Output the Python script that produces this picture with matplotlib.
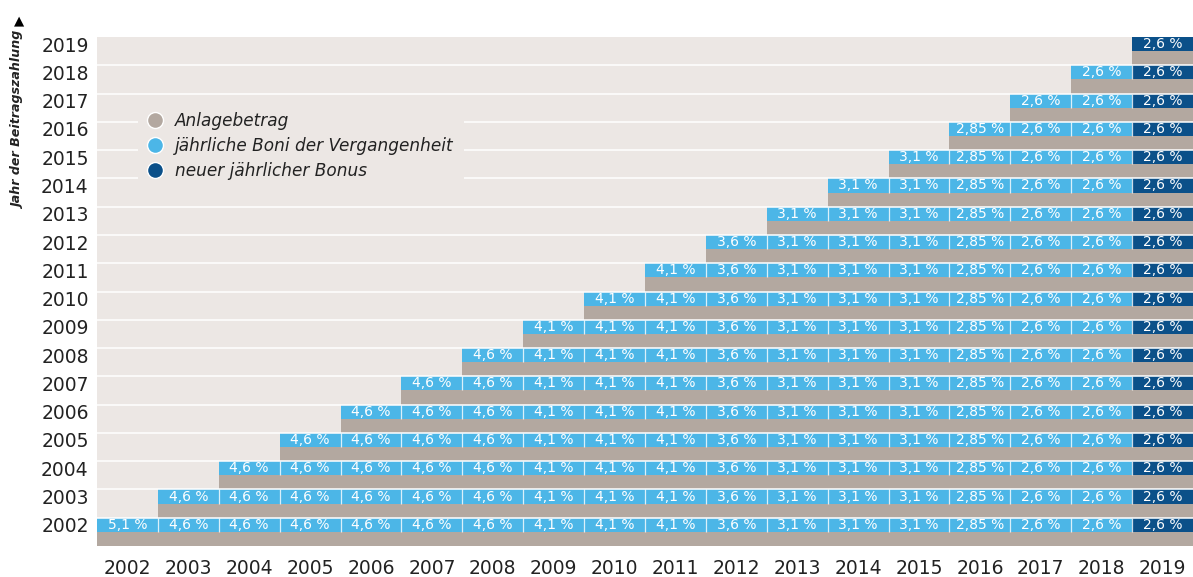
import matplotlib
matplotlib.use("Agg")
import matplotlib.pyplot as plt
from matplotlib.lines import Line2D

# ---- data ----
years = list(range(2002, 2020))
# Bonus rate per year (column), in percent
bonus = [5.1, 4.6, 4.6, 4.6, 4.6, 4.6, 4.6, 4.1, 4.1, 4.1,
         3.6, 3.1, 3.1, 3.1, 2.85, 2.6, 2.6, 2.6]
new_bonus_year = 2019

legend_labels = ["Anlagebetrag",
                 "jährliche Boni der Vergangenheit",
                 "neuer jährlicher Bonus"]
y_title = "Jahr der Beitragszahlung"

# ---- colours ----
c_panel = "#ece7e4"
c_base = "#b3a8a0"
c_past = "#4cb6e7"
c_new = "#0b5089"
c_text = "#222222"

plt.rcParams["font.family"] = ["DejaVu Sans"]

W, H = 1193, 577
fig = plt.figure(figsize=(W / 100, H / 100), dpi=100)
ax = fig.add_axes([97 / W, 1 - 546 / H, (1193 - 97) / W, (546 - 37) / H])
ax.set_facecolor(c_panel)

n = len(years)
cols = list(range(n))

for r, yr in enumerate(years):
    # base amount (grey), from payment year to the end
    ax.barh(r + 0.25, n - r, left=r, height=0.5, color=c_base, zorder=2)
    # bonus cells
    for c in cols[r:]:
        col = c_new if years[c] == new_bonus_year else c_past
        ax.barh(r + 0.75, 1, left=c, height=0.5, color=col, zorder=2)
        txt = f"{bonus[c]:g} %".replace(".", ",")
        ax.text(c + 0.5, r + 0.75, txt, ha="center", va="center",
                color="white", fontsize=10, zorder=4)
    # thin white separators between bonus cells
    if r < n - 1:
        ax.vlines([c for c in cols[r + 1:]], r + 0.5, r + 1,
                  color="white", lw=0.9, alpha=0.8, zorder=3)

# white lines between the rows
for i in range(1, n):
    ax.axhline(i, color="white", lw=1.1, zorder=3)

ax.set_xlim(0, n)
ax.set_ylim(0, n)
ax.set_xticks([c + 0.5 for c in cols])
ax.set_xticklabels([str(y) for y in years])
ax.set_yticks([c + 0.75 for c in cols])
ax.set_yticklabels([str(y) for y in years])
ax.tick_params(axis="x", length=0, pad=9, labelsize=13.5, labelcolor=c_text)
ax.tick_params(axis="y", length=0, pad=6, labelsize=13.5, labelcolor=c_text)
for s in ax.spines.values():
    s.set_visible(False)

# y-axis title with arrow
fig.text(19 / W, 1 - 21 / H, "\u25b2", ha="center", va="center",
         fontsize=9.5, color="black")
fig.text(19 / W, 1 - 32 / H, y_title, ha="center", va="top", rotation=90,
         fontsize=9.1, fontweight="bold", fontstyle="italic", color=c_text)

# legend
handles = [Line2D([], [], marker="o", ls="none", markersize=11.5,
                  markerfacecolor=c, markeredgecolor="white", markeredgewidth=1)
           for c in (c_base, c_past, c_new)]
leg = fig.legend(handles, legend_labels, loc="upper left",
                 bbox_to_anchor=(138 / W, 1 - 102 / H), frameon=True,
                 facecolor=c_panel, edgecolor="none", framealpha=1,
                 prop={"size": 12.2, "style": "italic"},
                 handlelength=0.8, handletextpad=0.78, labelspacing=0.42,
                 borderpad=0.6, borderaxespad=0)
for t in leg.get_texts():
    t.set_color(c_text)
leg.get_frame().set_boxstyle("square", pad=0)
leg.set_zorder(10)

fig.savefig("out.png", dpi=100)
